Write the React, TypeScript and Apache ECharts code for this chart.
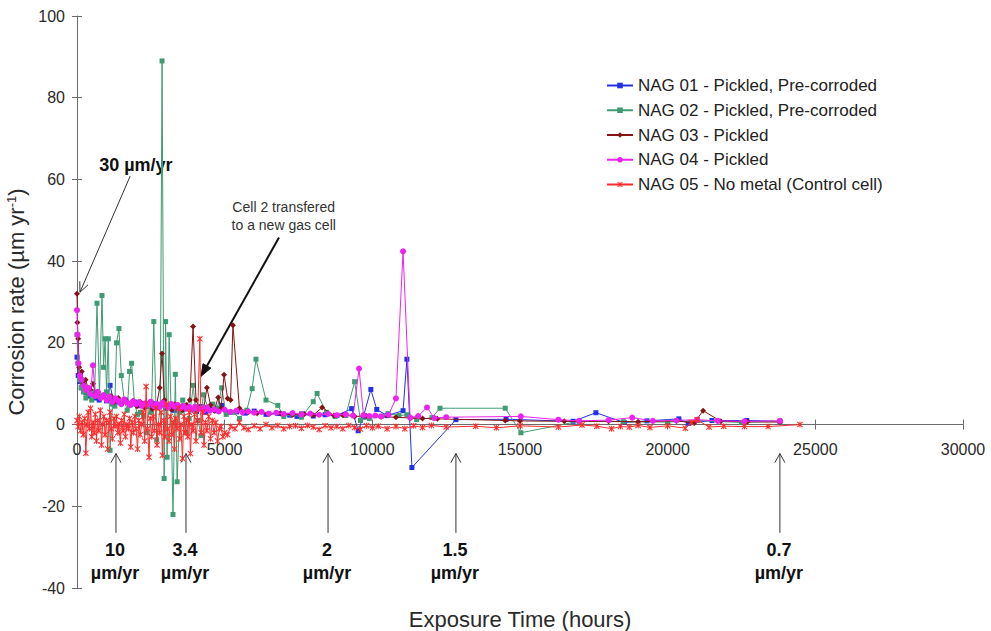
import { useEffect, useRef } from "react";
import * as echarts from "echarts";

type Pt = [number, number];

const FONT = "'Liberation Sans', Arial, sans-serif";

const SERIES_NAMES = [
  "NAG 01 - Pickled, Pre-corroded",
  "NAG 02 - Pickled, Pre-corroded",
  "NAG 03 - Pickled",
  "NAG 04 - Pickled",
  "NAG 05 - No metal (Control cell)",
];

// [exposure time (h), corrosion rate (µm/yr)]
const nag01: Pt[] = [
  [0, 16.5], [40, 12], [90, 10.5], [150, 9], [220, 8.5], [300, 7.8], [400, 7], [500, 7.4],
  [620, 6.5], [750, 6], [880, 6.8], [1000, 5.8], [1120, 9.6], [1230, 6], [1350, 5.5], [1500, 5.2],
  [1650, 6], [1800, 4.8], [1950, 5.5], [2100, 4.6], [2250, 5], [2400, 4.4], [2550, 5.2], [2700, 4.2],
  [2850, 4.8], [3000, 4], [3150, 4.6], [3300, 3.5], [3450, 4.3], [3600, 3.8], [3750, 4.5], [3900, 3.6],
  [4050, 3.2], [4200, 4.4], [4350, 3], [4500, 3.9], [4700, 3.4], [4900, 4.7], [5100, 3], [5400, 3.1],
  [5700, 2.8], [6000, 3.3], [6400, 2.5], [6800, 2.7], [7200, 2.3], [7450, 2], [7600, 2.6], [8000, 2.1],
  [8400, 2.4], [8800, 2.2], [9300, 3.9], [9520, -1.5], [9700, 2], [9950, 8.6], [10150, 3.7], [10500, 2.2],
  [11040, 3.4], [11170, 16], [11340, -10.5], [12830, 1.2], [14530, 1.3], [16800, 0.8], [17570, 2.9],
  [18530, 0.5], [19300, 0.9], [20380, 1.4], [20700, 0.3], [21500, 1], [22680, 1], [23800, 0.8],
];

const nag02: Pt[] = [
  [0, 22], [30, 15], [80, 11], [140, 9], [220, 8], [300, 6.5], [400, 7.5], [500, 6], [600, 8],
  [677, 29.7], [760, 7], [846, 31.6], [900, 14], [950, 21], [1000, 8], [1060, 21], [1120, -6.3],
  [1200, 5], [1280, 4.5], [1340, 20], [1420, 23.5], [1500, 12], [1600, 6], [1700, 3.5], [1780, 13],
  [1850, 15], [1950, 5], [2050, 2.5], [2150, 3], [2250, 2], [2350, -2], [2450, 4.5], [2520, 3],
  [2600, 25.2], [2700, -3.7], [2820, 5], [2880, 89], [2950, -13.2], [3000, 25.2], [3050, -8],
  [3120, 22], [3180, 5], [3250, -22], [3330, 12.3], [3390, -14], [3480, 3], [3580, 6], [3700, -2],
  [3800, 1.5], [3940, 9.6], [4000, 4], [4100, 1], [4200, -2.7], [4270, 7.3], [4450, 4], [4600, 5],
  [4750, 4], [4900, 9], [5050, 2.5], [5300, 3], [5500, 1.5], [5750, 3.5], [5930, 8.8], [6060, 16],
  [6400, 6], [6800, 4.7], [7000, 2], [7300, 2.5], [7600, 1.8], [8000, 5.6], [8130, 7.6], [8450, 3],
  [8740, 2], [9100, 2.2], [9400, 10.5], [9600, 1], [9900, 1.5], [10300, 2], [10530, 2.7], [10900, 2.2],
  [11170, 2.4], [11500, 1.2], [12020, 1.7], [12290, 4], [14500, 4], [15030, -2], [17000, 0.8],
  [18500, 0.7], [20000, 0.6], [21000, 1], [22500, 0.5], [23800, 0.8],
];

const nag03: Pt[] = [
  [0, 32], [15, 25], [40, 21], [70, 14], [110, 12.5], [160, 13], [220, 10], [290, 11], [370, 9],
  [450, 8.5], [540, 10], [630, 7.5], [720, 8], [820, 6.5], [920, 7.2], [1030, 6], [1150, 7],
  [1270, 5.5], [1400, 6.5], [1520, 5.2], [1650, 6], [1780, 4.8], [1900, 5.8], [2030, 4.5], [2150, 5.5],
  [2280, 4.2], [2420, 5.3], [2550, 3.8], [2700, 5], [2800, 9], [2880, 17.4], [2960, 6], [3080, 4.5],
  [3200, 3.6], [3320, 5], [3450, 4], [3580, 3.5], [3700, 4.8], [3820, 6], [3930, 24], [4030, 6],
  [4150, 4], [4280, 3.5], [4400, 9], [4520, 4.8], [4650, 3.4], [4780, 6.6], [4880, 4], [4980, 12.2],
  [5100, 6.4], [5200, 6], [5280, 24.3], [5500, 4], [5800, 3], [6100, 2.8], [6500, 2.6], [6900, 2.7],
  [7300, 2.4], [7700, 2.6], [8000, 2.3], [8300, 4.2], [8700, 2.2], [9000, 2.3], [9400, 2], [9800, 2.1],
  [10300, 1.9], [10800, 1.8], [11300, 1.6], [11700, 1.5], [12200, 1.4], [14500, 1], [15000, 0.9],
  [16500, 0.8], [18000, 0.8], [19000, 0.7], [20300, 0.9], [20900, 0.4], [21200, 3.4], [21800, 0.8],
  [22700, 0.7], [23800, 0.6],
];

const nag04: Pt[] = [
  [0, 28], [20, 22], [50, 15], [100, 12], [160, 11], [230, 9.5], [300, 8.5], [380, 9], [460, 7.5],
  [540, 14.5], [620, 7], [700, 8], [800, 6.5], [900, 7.2], [1000, 6], [1100, 6.8], [1200, 5.5],
  [1300, 6.4], [1400, 5.8], [1500, 5], [1600, 6.2], [1700, 5.4], [1800, 4.8], [1900, 5.7], [2000, 5],
  [2100, 5.5], [2200, 4.6], [2300, 5.2], [2400, 4.9], [2500, 5.6], [2600, 4.5], [2700, 5], [2800, 4.3],
  [2900, 5.4], [3000, 4.7], [3100, 4.2], [3200, 5], [3300, 4.4], [3400, 4.8], [3500, 4], [3600, 4.6],
  [3700, 3.9], [3800, 4.3], [3900, 3.7], [4000, 4.4], [4100, 3.8], [4200, 4], [4300, 3.5], [4400, 4.2],
  [4500, 3.4], [4650, 3.7], [4800, 3.2], [5000, 3.6], [5200, 3.1], [5400, 3.4], [5600, 3], [5800, 3.2],
  [6000, 2.9], [6250, 3.1], [6500, 2.7], [6750, 2.9], [7000, 2.6], [7300, 2.8], [7600, 2.5], [7900, 2.7],
  [8200, 2.4], [8500, 2.6], [8800, 2.3], [9100, 2.5], [9350, 2.2], [9550, 13.7], [9700, 2.3],
  [9900, 2.1], [10100, 2.2], [10300, 2], [10550, 2.4], [10800, 6.4], [11040, 42.4], [11280, 1.7],
  [11550, 2.1], [11850, 4.2], [12100, 1.6], [12500, 1.8], [15030, 2], [16300, 1.2], [17000, 0.9],
  [18000, 1.1], [18800, 1.7], [19500, 0.9], [20300, 1], [21000, 1.2], [21700, 0.9], [22600, 0.8],
  [23800, 0.9],
];

const nag05: Pt[] = [
  [0, 1], [40, -0.5], [80, 2], [120, -1.5], [170, 0.5], [210, -2.5], [260, 1.5], [300, -7], [340, 0],
  [380, 3], [420, -1], [460, 4], [500, -3], [540, 0.5], [580, -2], [620, 2.5], [660, -4], [700, 1],
  [740, -1.5], [790, 3.5], [830, -5], [870, 0], [910, 2], [950, -2.5], [1000, 1], [1040, -6], [1080, 0.5],
  [1120, 3], [1160, -1], [1200, -3.5], [1250, 1.5], [1290, -0.5], [1340, 2], [1380, -2], [1420, 0],
  [1470, -4.5], [1510, 1], [1560, -1.5], [1600, 2.5], [1640, -3], [1690, 0], [1740, -1], [1780, 1.5],
  [1820, -5.5], [1870, 0.5], [1910, -2], [1960, 2], [2000, -1], [2050, -6], [2090, 1], [2140, -2.5],
  [2190, 0], [2240, 3], [2290, -4], [2340, 9.3], [2390, -1], [2440, -8], [2480, 1.5], [2530, -3],
  [2580, 2], [2620, -1.5], [2670, 4], [2710, -5], [2760, 0], [2800, -2], [2850, 3], [2890, -7.5],
  [2940, 1], [2980, -3], [3030, 5], [3070, -1], [3120, -4], [3160, 2], [3210, -2.5], [3250, 0.5],
  [3300, -6], [3340, 1.5], [3390, -1], [3430, 4], [3480, -3.5], [3520, 0], [3570, -8.3], [3620, 2],
  [3660, -2], [3710, 1], [3750, -3], [3800, 3], [3840, -7.1], [3890, 0], [3930, -1.5], [3980, 2.5],
  [4030, -4], [4080, 1], [4160, 21], [4200, -2], [4250, 3], [4300, -5], [4350, 0.5], [4400, -1.5],
  [4460, 2], [4520, -3.5], [4580, 1], [4640, -2], [4700, 0.5], [4760, -4], [4820, -1], [4880, -0.5],
  [4940, -3], [5000, -2], [5100, -2.5], [5200, -0.5], [5350, -1], [5500, 0.5], [5650, -0.8],
  [5800, -1.2], [6000, -0.3], [6200, -1], [6400, 0], [6600, -0.8], [6800, -0.2], [7000, -1],
  [7200, -0.5], [7400, -0.3], [7600, -0.9], [7800, -0.2], [8000, -0.6], [8200, -1.2], [8400, -0.3],
  [8600, -0.8], [8800, -0.5], [9000, -1], [9200, -0.2], [9400, -0.7], [9600, -1.1], [9800, -0.3],
  [10000, -0.8], [10200, -0.4], [10500, -1], [10800, -0.5], [11100, -1], [11400, -0.3], [11700, -0.7],
  [12000, -0.2], [12500, -0.6], [13500, -0.4], [14200, -0.8], [15000, -0.3], [16300, -0.6],
  [17100, -0.1], [17600, -0.4], [18100, -1], [18400, -0.5], [18700, -0.6], [19000, -0.2], [19400, -0.7],
  [20000, -0.3], [20600, -0.9], [20800, 0.5], [21000, 1.2], [21400, -0.6], [21900, -0.4], [22600, -0.5],
  [23400, -0.5], [24480, 0],
];

const SERIES_DATA = [nag01, nag02, nag03, nag04, nag05];
const SERIES_COLORS = ["#2230e6", "#3f9b72", "#861414", "#ee22ee", "#ff2b2b"];

// asterisk-like marker for the control cell
const STAR =
  "path://M4.2,0 L5.8,0 L5.8,10 L4.2,10 Z M0,1.2 L1.2,0 L10,8.8 L8.8,10 Z M8.8,0 L10,1.2 L1.2,10 L0,8.8 Z";
const SERIES_SYMBOLS = ["rect", "rect", "diamond", "circle", STAR];
const SERIES_SYMBOL_SIZES = [5, 5, 6, 6, 6];

// rate reached at selected exposure times
const rateMarkHours = [1320, 3690, 8500, 12830, 23800];
const rateMarkLabels = ["10", "3.4", "2", "1.5", "0.7"];

const X_MIN = 0;
const X_MAX = 30000;
const X_STEP = 5000;
const Y_MIN = -40;
const Y_MAX = 100;
const Y_STEP = 20;

// plot area in pixels
const PLOT_LEFT = 77;
const PLOT_RIGHT = 28;
const PLOT_TOP = 16;
const PLOT_BOTTOM = 43;
const CHART_H = 631;

function arrowHead(tip: number[], from: number[], len: number, spread: number) {
  const dx = tip[0] - from[0];
  const dy = tip[1] - from[1];
  const d = Math.hypot(dx, dy);
  const ux = dx / d;
  const uy = dy / d;
  const bx = tip[0] - ux * len;
  const by = tip[1] - uy * len;
  const px = -uy * spread;
  const py = ux * spread;
  return [
    [bx + px, by + py],
    [tip[0], tip[1]],
    [bx - px, by - py],
  ];
}

export default function App() {
  const ref = useRef<HTMLDivElement>(null);

  useEffect(() => {
    if (!ref.current) return;
    const chart = echarts.init(ref.current, undefined, { renderer: "svg" });

    const axisColor = "#6b6b6b";
    const labelStyle = { fontFamily: FONT, fontSize: 16, color: "#2a2a2a" };
    const plain = (v: number) => String(v);

    // the time axis sits on the zero-rate line: a second grid whose bottom edge is at rate 0
    const plotH = CHART_H - PLOT_TOP - PLOT_BOTTOM;
    const zeroY = PLOT_TOP + (plotH * Y_MAX) / (Y_MAX - Y_MIN);

    const option: any = {
      animation: false,
      backgroundColor: "#ffffff",
      textStyle: { fontFamily: FONT },
      grid: [
        { left: PLOT_LEFT, right: PLOT_RIGHT, top: PLOT_TOP, bottom: PLOT_BOTTOM, containLabel: false, outerBoundsMode: "none" },
        { left: PLOT_LEFT, right: PLOT_RIGHT, top: PLOT_TOP, height: zeroY - PLOT_TOP, containLabel: false, outerBoundsMode: "none" },
      ],
      legend: {
        orient: "vertical",
        left: 601,
        top: 72,
        itemWidth: 26,
        itemHeight: 7,
        itemGap: 7.75,
        textStyle: { fontFamily: FONT, fontSize: 17, color: "#222", lineHeight: 17 },
        data: SERIES_NAMES,
      },
      xAxis: [
        {
          gridIndex: 0,
          type: "value",
          min: X_MIN,
          max: X_MAX,
          interval: X_STEP,
          axisLine: { show: false, onZero: false },
          axisTick: { show: false },
          axisLabel: { show: false },
          splitLine: { show: false },
        },
        {
          gridIndex: 1,
          type: "value",
          min: X_MIN,
          max: X_MAX,
          interval: X_STEP,
          position: "bottom",
          name: "Exposure Time (hours)",
          nameLocation: "middle",
          nameGap: 184,
          nameTextStyle: { fontFamily: FONT, fontSize: 22, color: "#2a2a2a" },
          axisLine: { onZero: false, lineStyle: { color: axisColor, width: 1 } },
          axisTick: { show: true, length: 5, lineStyle: { color: axisColor } },
          axisLabel: { ...labelStyle, margin: 17, formatter: plain },
          splitLine: { show: false },
        },
        {
          gridIndex: 1,
          type: "value",
          min: X_MIN,
          max: X_MAX,
          interval: X_STEP,
          position: "bottom",
          axisLine: { show: false, onZero: false },
          axisTick: { show: true, inside: true, length: 5, lineStyle: { color: axisColor } },
          axisLabel: { show: false },
          splitLine: { show: false },
        },
      ],
      yAxis: [
        {
          gridIndex: 0,
          type: "value",
          min: Y_MIN,
          max: Y_MAX,
          interval: Y_STEP,
          position: "left",
          name: "Corrosion rate (µm yr{sup|-1})",
          nameLocation: "middle",
          nameGap: 32,
          nameTextStyle: {
            fontFamily: FONT,
            fontSize: 22,
            color: "#2a2a2a",
            rich: {
              sup: { fontFamily: FONT, fontSize: 13, color: "#2a2a2a", verticalAlign: "top", lineHeight: 16 },
            },
          },
          axisLine: { onZero: false, lineStyle: { color: axisColor, width: 1 } },
          axisTick: { show: true, length: 5, lineStyle: { color: axisColor } },
          axisLabel: { ...labelStyle, margin: 12, formatter: plain },
          splitLine: { show: false },
        },
        {
          gridIndex: 0,
          type: "value",
          min: Y_MIN,
          max: Y_MAX,
          interval: Y_STEP,
          position: "left",
          axisLine: { show: false, onZero: false },
          axisTick: { show: true, inside: true, length: 5, lineStyle: { color: axisColor } },
          axisLabel: { show: false },
          splitLine: { show: false },
        },
        {
          gridIndex: 1,
          type: "value",
          min: 0,
          max: 1,
          show: false,
        },
      ],
      series: SERIES_NAMES.map((name, i) => ({
        name,
        type: "line",
        xAxisIndex: 0,
        yAxisIndex: 0,
        data: SERIES_DATA[i],
        symbol: SERIES_SYMBOLS[i],
        symbolSize: SERIES_SYMBOL_SIZES[i],
        showAllSymbol: true,
        color: SERIES_COLORS[i],
        lineStyle: { width: 1, color: SERIES_COLORS[i] },
        itemStyle: { color: SERIES_COLORS[i], borderWidth: 0 },
        z: 2 + i,
      })),
    };

    chart.setOption(option);

    const px = (h: number, v: number) =>
      chart.convertToPixel({ xAxisIndex: 0, yAxisIndex: 0 }, [h, v]) as number[];

    const graphics: any[] = [];
    const thin = { stroke: "#333", lineWidth: 1, fill: "none" };

    // "30 µm/yr" call-out
    const tail30 = px(1800, 60.8);
    const tip30 = px(100, 32.4);
    graphics.push({
      type: "line",
      shape: { x1: tail30[0], y1: tail30[1], x2: tip30[0], y2: tip30[1] },
      style: thin,
    });
    graphics.push({
      type: "polyline",
      shape: { points: arrowHead(tip30, tail30, 10, 4.5) },
      style: thin,
    });
    const t30 = px(750, 63.5);
    graphics.push({
      type: "text",
      x: t30[0],
      y: t30[1],
      style: {
        text: "30 µm/yr",
        fontFamily: FONT,
        fontSize: 18,
        fontWeight: "bold",
        fill: "#111",
        align: "left",
        verticalAlign: "middle",
      },
    });

    // gas cell transfer note
    const tailCell = px(6840, 45.8);
    const tipCell = px(4200, 11.8);
    const headCell = arrowHead(tipCell, tailCell, 12, 4.5);
    const baseCell = [(headCell[0][0] + headCell[2][0]) / 2, (headCell[0][1] + headCell[2][1]) / 2];
    graphics.push({
      type: "line",
      shape: { x1: tailCell[0], y1: tailCell[1], x2: baseCell[0], y2: baseCell[1] },
      style: { stroke: "#111", lineWidth: 2 },
    });
    graphics.push({
      type: "polygon",
      shape: { points: headCell },
      style: { fill: "#111", stroke: "#111", lineWidth: 1 },
    });
    const cellLines = ["Cell 2 transfered", "to a new gas cell"];
    cellLines.forEach((line, k) => {
      const p = px(7000, 53.3 - k * 4.4);
      graphics.push({
        type: "text",
        x: p[0],
        y: p[1],
        style: {
          text: line,
          fontFamily: FONT,
          fontSize: 14,
          fill: "#333",
          align: "center",
          verticalAlign: "middle",
        },
      });
    });

    // rate markers below the time axis
    rateMarkHours.forEach((h, k) => {
      const tip = px(h, -7.1);
      const tail = px(h, -26.5);
      graphics.push({
        type: "line",
        shape: { x1: tail[0], y1: tail[1], x2: tip[0], y2: tip[1] },
        style: thin,
      });
      graphics.push({
        type: "polyline",
        shape: { points: arrowHead(tip, tail, 9, 5) },
        style: thin,
      });
      const l1 = px(h, -30.6);
      const l2 = px(h, -36.3);
      [rateMarkLabels[k], "µm/yr"].forEach((txt, j) => {
        const p = j === 0 ? l1 : l2;
        graphics.push({
          type: "text",
          x: p[0] - 1,
          y: p[1],
          style: {
            text: txt,
            fontFamily: FONT,
            fontSize: 18,
            fontWeight: "bold",
            fill: "#111",
            align: "center",
            verticalAlign: "middle",
          },
        });
      });
    });

    chart.setOption({ graphic: graphics });

    return () => chart.dispose();
  }, []);

  return (
    <div
      ref={ref}
      style={{ position: "absolute", left: 0, top: 0, width: 991, height: CHART_H, background: "#fff" }}
    />
  );
}
